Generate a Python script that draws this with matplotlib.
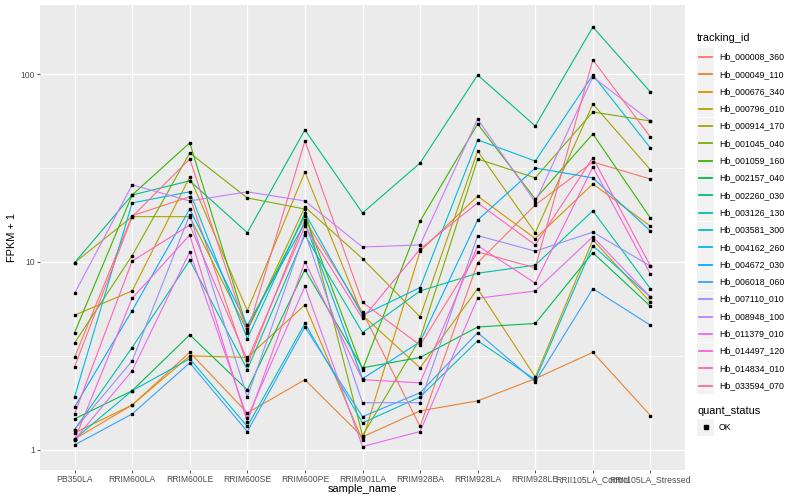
import matplotlib
matplotlib.use('Agg')
import matplotlib.pyplot as plt
from matplotlib.patches import Rectangle
from matplotlib.lines import Line2D

plt.rcParams['font.family'] = ['Liberation Sans', 'DejaVu Sans']

samples = ['PB350LA', 'RRIM600LA', 'RRIM600LE', 'RRIM600SE', 'RRIM600PE', 'RRIM901LA',
           'RRIM928BA', 'RRIM928LA', 'RRIM928LE', 'RRII105LA_Control', 'RRII105LA_Stressed']

tracking_ids = ['Hb_000008_360', 'Hb_000049_110', 'Hb_000676_340', 'Hb_000796_010', 'Hb_000914_170',
                'Hb_001045_040', 'Hb_001059_160', 'Hb_002157_040', 'Hb_002260_030', 'Hb_003126_130',
                'Hb_003581_300', 'Hb_004162_260', 'Hb_004672_030', 'Hb_006018_060', 'Hb_007110_010',
                'Hb_008948_100', 'Hb_011379_010', 'Hb_014497_120', 'Hb_014834_010', 'Hb_033594_070']

# ggplot hue palette, 20 levels
colors = ['#F8766D', '#EA8331', '#D89000', '#C09B00', '#A3A500', '#7CAE00', '#39B600', '#00BB4E',
          '#00BF7D', '#00C1A3', '#00BFC4', '#00BAE0', '#00B0F6', '#35A2FF', '#9590FF', '#C77CFF',
          '#E76BF3', '#FA62DB', '#FF62BC', '#FF6C91']

# FPKM + 1, one list per tracking_id, in sample order
fpkm = [
    [3.1, 17.6, 22.2, 2.83, 16.7, 5.4, 1.33, 9.9, 20.1, 34.0, 27.6],
    [1.14, 1.73, 3.3, 1.57, 2.36, 1.17, 1.61, 1.82, 2.39, 3.3, 1.52],
    [1.23, 1.73, 3.16, 3.1, 5.9, 1.12, 11.4, 22.4, 13.3, 26.0, 15.5],
    [5.2, 7.0, 28.3, 5.5, 30.1, 5.2, 2.73, 7.2, 2.44, 13.1, 6.1],
    [9.9, 17.4, 17.4, 4.3, 19.6, 10.4, 5.1, 38.9, 14.3, 69.2, 30.9],
    [3.7, 10.8, 38.0, 21.9, 19.1, 1.19, 3.9, 35.3, 28.0, 62.8, 56.2],
    [4.2, 22.7, 43.0, 4.4, 17.6, 2.67, 16.5, 54.2, 21.6, 48.0, 17.1],
    [1.46, 2.06, 4.09, 2.08, 9.1, 2.73, 3.1, 4.5, 4.7, 11.2, 5.8],
    [9.9, 22.7, 27.0, 14.3, 50.4, 18.2, 33.6, 98.8, 52.9, 178, 80.2],
    [1.28, 3.5, 10.2, 2.67, 13.9, 4.2, 7.0, 8.7, 9.6, 18.7, 7.2],
    [1.14, 2.06, 3.05, 1.33, 4.7, 1.39, 1.91, 3.8, 2.36, 12.2, 6.5],
    [1.91, 20.6, 23.6, 3.9, 18.2, 5.2, 7.3, 44.6, 34.4, 98.8, 40.4],
    [1.69, 5.5, 19.1, 4.6, 16.1, 2.39, 3.75, 16.7, 31.6, 28.0, 14.6],
    [1.06, 1.55, 2.9, 1.25, 4.5, 1.50, 2.01, 4.2, 2.30, 7.2, 4.6],
    [1.28, 2.97, 17.8, 1.91, 14.4, 1.78, 1.78, 13.8, 11.4, 14.4, 9.5],
    [6.8, 25.7, 21.1, 23.6, 21.1, 12.0, 12.3, 57.6, 20.8, 96.4, 56.2],
    [1.13, 2.63, 11.3, 1.48, 7.4, 1.04, 1.25, 6.4, 7.0, 13.6, 6.5],
    [1.13, 6.4, 13.9, 1.41, 10.0, 2.36, 2.27, 12.2, 7.7, 32.0, 8.6],
    [1.55, 10.1, 15.7, 3.0, 15.5, 5.0, 11.7, 20.6, 12.3, 35.8, 9.5],
    [2.76, 17.4, 35.3, 4.2, 44.0, 6.1, 3.6, 11.3, 9.3, 119, 46.2],
]

W, H = 800, 500
fig = plt.figure(figsize=(8, 5), dpi=100)
ax = fig.add_axes([40 / W, 30 / H, 645 / W, 465 / H])
ax.set_facecolor('#EBEBEB')
for s in ax.spines.values():
    s.set_visible(False)

xs = list(range(len(samples)))
for vals, c in zip(fpkm, colors):
    ax.plot(xs, vals, color=c, lw=0.8, zorder=2)
for vals in fpkm:
    ax.plot(xs, vals, ls='none', marker='s', ms=2.0, color='black', zorder=3)

ax.set_yscale('log')
ax.set_ylim(0.78, 233)
ax.set_xlim(-0.6, len(samples) - 0.4)
ax.set_yticks([1, 10, 100])
ax.set_yticklabels(['1', '10', '100'])
ax.set_yticks([10 ** 0.5, 10 ** 1.5], minor=True)
ax.yaxis.set_minor_formatter(plt.NullFormatter())
ax.set_xticks(xs)
ax.set_xticklabels(samples)
ax.grid(which='major', color='white', lw=1.0, zorder=0)
ax.grid(which='minor', axis='y', color='white', lw=0.5, zorder=0)
ax.set_axisbelow(True)
ax.tick_params(which='major', length=2.5, width=0.6, color='#333333', labelsize=6.2,
               labelcolor='#4D4D4D', pad=1.2)
ax.tick_params(which='minor', length=0)

fig.text(362 / W, 1 - 489 / H, 'sample_name', ha='center', va='center', fontsize=7.9)
fig.text(12 / W, 1 - 237 / H, 'FPKM + 1', ha='center', va='center', rotation=90, fontsize=7.9)


def fp(x, y):
    return x / W, 1 - y / H


# legend: tracking_id
fig.text(*fp(697, 38), 'tracking_id', ha='left', va='center', fontsize=7.9)
for i, (name, c) in enumerate(zip(tracking_ids, colors)):
    yc = 57 + i * 17.3
    fig.add_artist(Rectangle(fp(697, yc + 8.5), 17 / W, 17 / H, transform=fig.transFigure,
                             facecolor='#F2F2F2', edgecolor='none', zorder=1))
    fig.add_artist(Line2D([699 / W, 712 / W], [1 - yc / H] * 2, transform=fig.transFigure,
                          color=c, lw=1.3, zorder=5))
    fig.text(*fp(719, yc), name, ha='left', va='center', fontsize=6.3)

# legend: quant_status
fig.text(*fp(697, 411), 'quant_status', ha='left', va='center', fontsize=7.9)
fig.add_artist(Rectangle(fp(697, 435.5), 17 / W, 17 / H, transform=fig.transFigure,
                         facecolor='#F2F2F2', edgecolor='none', zorder=1))
fig.add_artist(Line2D([705.5 / W], [1 - 427 / H], transform=fig.transFigure,
                      marker='s', ms=2.2, color='black', ls='none', zorder=5))
fig.text(*fp(719, 427), 'OK', ha='left', va='center', fontsize=6.3)

fig.savefig('out.png', dpi=100)
